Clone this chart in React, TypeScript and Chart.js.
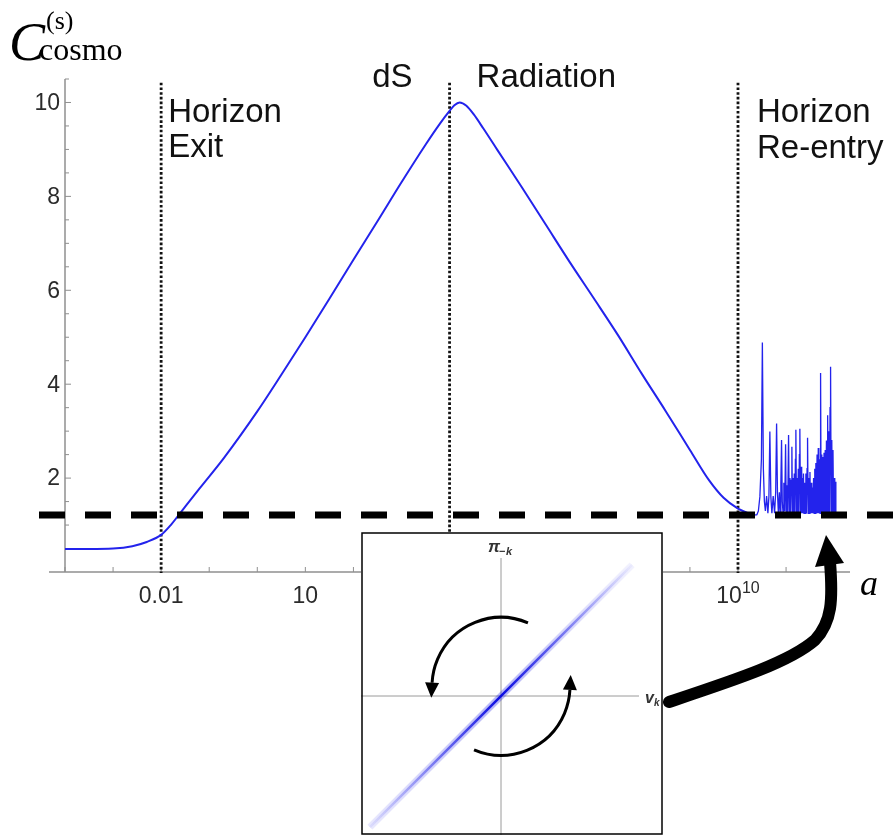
import React, { useEffect, useRef } from "react";
import { Chart, registerables } from "chart.js";
Chart.register(...registerables);

// ---------- data ----------
// smooth part of C_cosmo vs log10(a)
const curveLogA = [-4, -3.5, -3, -2.6, -2.3, -2.0, -1.8, -1.6, -1.2, -0.7, 0, 0.5, 1, 1.5, 2, 2.5, 3, 3.5, 3.8, 4.0, 4.1, 4.21, 4.35, 4.5, 4.7, 5.0, 5.5, 6, 6.5, 7, 7.5, 8, 8.5, 9, 9.4, 9.7, 10, 10.2, 10.362];
const curveC = [0.49, 0.49, 0.5, 0.55, 0.64, 0.79, 1.0, 1.26, 1.78, 2.42, 3.42, 4.2, 5.0, 5.82, 6.65, 7.47, 8.3, 9.1, 9.55, 9.82, 9.94, 10.0, 9.93, 9.75, 9.45, 8.98, 8.2, 7.4, 6.6, 5.83, 5.05, 4.22, 3.42, 2.6, 1.95, 1.58, 1.35, 1.26, 1.21];

// oscillating part after horizon re-entry
const oscLogA = [
  10.362, 10.393, 10.424, 10.455, 10.487, 10.507, 10.528, 10.549, 10.570, 10.595,
  10.622, 10.643, 10.663, 10.684, 10.705, 10.732, 10.761, 10.784, 10.803, 10.821,
  10.840, 10.861, 10.877, 10.892, 10.906, 10.921, 10.938, 10.954, 10.971, 10.990,
  11.004, 11.019, 11.033, 11.052, 11.067, 11.081, 11.096, 11.108, 11.121, 11.133,
  11.146, 11.158, 11.171, 11.183, 11.194, 11.204, 11.217, 11.229, 11.241, 11.254,
  11.266, 11.277, 11.287, 11.300, 11.312, 11.325, 11.337, 11.350, 11.362, 11.374,
  11.387, 11.399, 11.412, 11.424, 11.437, 11.447, 11.460, 11.472, 11.485, 11.497,
  11.510, 11.522, 11.535, 11.547, 11.560, 11.572, 11.585, 11.597, 11.610, 11.620,
  11.633, 11.645, 11.658, 11.670, 11.682, 11.695, 11.707, 11.718, 11.730, 11.743,
  11.755, 11.768, 11.780, 11.790, 11.803, 11.815, 11.828, 11.840, 11.853, 11.865,
  11.878, 11.890, 11.903, 11.915, 11.926, 11.938, 11.951, 11.963, 11.976, 11.988,
  12.001, 12.013, 12.026, 12.036,
];
const oscC = [
  1.21, 1.22, 1.3, 1.6, 2.4, 4.89, 2.2, 1.5, 1.3, 1.62,
  1.25, 1.6, 2.99, 1.6, 1.25, 1.62, 1.25, 1.7, 3.16, 1.7,
  1.25, 1.7, 1.25, 1.9, 2.81, 1.5, 1.25, 1.9, 1.3, 2.72,
  1.25, 1.85, 1.28, 2.92, 1.25, 2.0, 1.25, 1.95, 2.67, 1.25,
  2.0, 1.25, 2.1, 1.25, 2.4, 3.03, 1.25, 2.0, 1.25, 2.2,
  1.25, 2.5, 3.05, 1.25, 2.24, 1.25, 2.0, 1.25, 2.1, 1.25,
  1.9, 1.25, 2.1, 1.25, 2.2, 2.86, 1.25, 2.0, 1.25, 2.13,
  1.25, 1.9, 1.25, 1.8, 1.25, 2.0, 1.25, 2.2, 1.25, 2.32,
  1.25, 2.5, 1.25, 2.64, 1.25, 2.4, 1.25, 4.24, 1.25, 2.5,
  1.25, 2.45, 1.25, 2.54, 1.25, 2.6, 1.25, 2.8, 1.25, 3.34,
  1.25, 3.0, 1.25, 3.5, 4.37, 1.25, 2.81, 1.25, 2.6, 1.25,
  2.0, 1.25, 1.92, 1.25,
];

const xMinExp = -4;
const xMaxExp = 12.33;
const yMax = 10.5;
const yMinorStep = 0.5;
const yTickValues = [2, 4, 6, 8, 10];
const xTickValues = [0.01, 10, 1e4, 1e7, 1e10];
const xTickBase = ["0.01", "10", "10", "10", "10"];
const xTickExp = ["", "", "4", "7", "10"];
const eventLines = [0.01, 1e4, 1e10]; // horizon exit, dS->radiation, re-entry
const eventTop = 10.42;
const thresholdC = 1.215;

// inset phase-space squeezing line
const insetV = [-0.95, 0.95];
const insetPi = [-0.95, 0.95];

// ---------- styles ----------
const SANS = '"Liberation Sans", Arial, sans-serif';
const SERIF = '"Liberation Serif", "Times New Roman", serif';
const BLUE = "#2323ec";

function line(ctx: any, x1: number, y1: number, x2: number, y2: number) {
  ctx.beginPath();
  ctx.moveTo(x1, y1);
  ctx.lineTo(x2, y2);
  ctx.stroke();
}

const mainDecor = {
  id: "mainDecor",
  beforeDatasetsDraw(chart: any) {
    const { ctx, scales } = chart;
    const x = scales.x;
    const y = scales.y;
    const yb = y.getPixelForValue(0);
    const yt = y.getPixelForValue(yMax);
    ctx.save();
    ctx.strokeStyle = "#8f8f8f";
    ctx.lineWidth = 1.5;
    line(ctx, x.left, yt, x.left, yb);
    line(ctx, x.left - 16, yb, x.right, yb);
    // y ticks (inward)
    ctx.lineWidth = 1;
    for (let v = yMinorStep; v <= yMax + 1e-9; v += yMinorStep) {
      const py = y.getPixelForValue(v);
      const len = Math.abs(v % 2) < 1e-9 ? 6 : 4;
      line(ctx, x.left, py, x.left + len, py);
    }
    // x ticks every decade (inward)
    for (let e = xMinExp; e <= Math.floor(xMaxExp); e++) {
      const px = x.getPixelForValue(Math.pow(10, e));
      line(ctx, px, yb, px, yb - 5);
    }
    // dotted event lines
    ctx.strokeStyle = "#111";
    ctx.lineWidth = 2.8;
    ctx.setLineDash([2.6, 2.1]);
    for (const a of eventLines) {
      const px = x.getPixelForValue(a);
      line(ctx, px, y.getPixelForValue(eventTop), px, yb + 1);
    }
    ctx.restore();
  },
  afterDatasetsDraw(chart: any) {
    const { ctx, scales } = chart;
    const x = scales.x;
    const y = scales.y;
    const yb = y.getPixelForValue(0);
    ctx.save();
    // dashed threshold line
    ctx.strokeStyle = "#000";
    ctx.lineWidth = 7;
    ctx.setLineDash([26, 20]);
    const py = y.getPixelForValue(thresholdC);
    line(ctx, 39, py, chart.width, py);
    ctx.setLineDash([]);

    // y tick labels
    ctx.fillStyle = "#2b2b2b";
    ctx.font = `23px ${SANS}`;
    ctx.textAlign = "right";
    ctx.textBaseline = "middle";
    for (const v of yTickValues) {
      ctx.fillText(String(v), x.left - 5, y.getPixelForValue(v) + 1);
    }
    // x tick labels
    ctx.textBaseline = "alphabetic";
    ctx.textAlign = "left";
    xTickValues.forEach((v, i) => {
      const cx = x.getPixelForValue(v);
      const base = xTickBase[i];
      const ex = xTickExp[i];
      ctx.font = `23px ${SANS}`;
      const wb = ctx.measureText(base).width;
      ctx.font = `16px ${SANS}`;
      const we = ex ? ctx.measureText(ex).width : 0;
      const start = cx - (wb + we) / 2;
      ctx.font = `23px ${SANS}`;
      ctx.fillText(base, start, yb + 31);
      if (ex) {
        ctx.font = `16px ${SANS}`;
        ctx.fillText(ex, start + wb, yb + 21);
      }
    });

    // region annotations
    ctx.fillStyle = "#111";
    ctx.font = `33px ${SANS}`;
    const xExit = x.getPixelForValue(eventLines[0]);
    const xDs = x.getPixelForValue(eventLines[1]);
    const xRe = x.getPixelForValue(eventLines[2]);
    ctx.textAlign = "left";
    ctx.fillText("Horizon", xExit + 7, 122);
    ctx.fillText("Exit", xExit + 7, 157);
    ctx.textAlign = "right";
    ctx.fillText("dS", xDs - 37, 87);
    ctx.textAlign = "left";
    ctx.fillText("Radiation", xDs + 27, 87);
    ctx.fillText("Horizon", xRe + 19, 122);
    ctx.fillText("Re-entry", xRe + 19, 158);

    // axis titles
    ctx.fillStyle = "#000";
    ctx.font = `italic 54px ${SERIF}`;
    ctx.fillText("C", 9, 60);
    ctx.font = `26px ${SERIF}`;
    ctx.fillText("(s)", 46, 29);
    ctx.font = `32px ${SERIF}`;
    ctx.fillText("cosmo", 39, 60);
    ctx.font = `italic 36px ${SERIF}`;
    ctx.fillText("a", 860, 595);

    // big curved arrow from inset to oscillations
    ctx.strokeStyle = "#000";
    ctx.fillStyle = "#000";
    ctx.lineWidth = 12;
    ctx.lineCap = "round";
    ctx.beginPath();
    ctx.moveTo(669, 702);
    ctx.bezierCurveTo(735, 680, 790, 662, 815, 640);
    ctx.bezierCurveTo(832, 622, 833, 600, 830, 562);
    ctx.stroke();
    ctx.beginPath();
    ctx.moveTo(826, 535);
    ctx.lineTo(844, 563);
    ctx.lineTo(815, 567);
    ctx.closePath();
    ctx.fill();
    ctx.restore();
  },
};

function arrowArc(ctx: any, cx: number, cy: number, r: number, a0: number, a1: number) {
  const d0 = (a0 * Math.PI) / 180;
  const d1 = (a1 * Math.PI) / 180;
  ctx.beginPath();
  ctx.arc(cx, cy, r, d0, d1, true);
  ctx.stroke();
  const bx = cx + r * Math.cos(d1);
  const by = cy + r * Math.sin(d1);
  const dx = Math.sin(d1);
  const dy = -Math.cos(d1);
  const len = 15;
  const hw = 7;
  ctx.beginPath();
  ctx.moveTo(bx + dx * len, by + dy * len);
  ctx.lineTo(bx - dy * hw, by + dx * hw);
  ctx.lineTo(bx + dy * hw, by - dx * hw);
  ctx.closePath();
  ctx.fill();
}

const insetDecor = {
  id: "insetDecor",
  beforeDraw(chart: any) {
    const { ctx } = chart;
    ctx.save();
    ctx.fillStyle = "#fff";
    ctx.fillRect(0, 0, chart.width, chart.height);
    ctx.restore();
  },
  beforeDatasetsDraw(chart: any) {
    const { ctx, scales, chartArea } = chart;
    const x0 = scales.x.getPixelForValue(0);
    const y0 = scales.y.getPixelForValue(0);
    ctx.save();
    ctx.strokeStyle = "#9a9a9a";
    ctx.lineWidth = 1;
    line(ctx, x0, chartArea.top, x0, chart.height);
    line(ctx, 0, y0, chartArea.right, y0);
    ctx.restore();
  },
  afterDatasetsDraw(chart: any) {
    const { ctx, scales } = chart;
    const cx = scales.x.getPixelForValue(0);
    const cy = scales.y.getPixelForValue(0.07);
    const r = scales.x.getPixelForValue(0.5) - cx;
    ctx.save();
    ctx.strokeStyle = "#000";
    ctx.fillStyle = "#000";
    ctx.lineWidth = 3;
    arrowArc(ctx, cx, cy, r, -67, -177);
    arrowArc(ctx, cx, cy, r, 113, 3);
    // labels
    ctx.fillStyle = "#333";
    ctx.textAlign = "left";
    ctx.textBaseline = "alphabetic";
    ctx.font = `italic bold 17px ${SANS}`;
    ctx.fillText("π", 127, 20);
    ctx.font = `bold 11px ${SANS}`;
    ctx.fillText("−", 138, 23);
    ctx.font = `italic bold 11px ${SANS}`;
    ctx.fillText("k", 145, 23);
    ctx.font = `italic bold 16px ${SANS}`;
    ctx.fillText("v", 284, 171);
    ctx.font = `italic bold 10px ${SANS}`;
    ctx.fillText("k", 293, 174);
    // border
    ctx.strokeStyle = "#000";
    ctx.lineWidth = 1.5;
    ctx.strokeRect(1, 1, 300, 301);
    ctx.restore();
  },
};

function diagGradient(alphaCenter: number, alphaEnds: number) {
  return (c: any) => {
    const chart = c.chart;
    if (!chart.chartArea) return `rgba(30,30,230,${alphaCenter})`;
    const xs = chart.scales.x;
    const ys = chart.scales.y;
    const g = chart.ctx.createLinearGradient(
      xs.getPixelForValue(insetV[0]), ys.getPixelForValue(insetPi[0]),
      xs.getPixelForValue(insetV[1]), ys.getPixelForValue(insetPi[1])
    );
    g.addColorStop(0, `rgba(70,70,240,${alphaEnds})`);
    g.addColorStop(0.5, `rgba(10,10,225,${alphaCenter})`);
    g.addColorStop(1, `rgba(70,70,240,${alphaEnds * 0.6})`);
    return g;
  };
}

export default function App() {
  const mainRef = useRef<HTMLCanvasElement>(null);
  const insetRef = useRef<HTMLCanvasElement>(null);

  useEffect(() => {
    const curve = curveLogA.map((L, i) => ({ x: Math.pow(10, L), y: curveC[i] }));
    const osc = oscLogA.map((L, i) => ({ x: Math.pow(10, L), y: oscC[i] }));
    const main = new Chart(mainRef.current as HTMLCanvasElement, {
      type: "line",
      data: {
        datasets: [
          {
            data: curve,
            borderColor: BLUE,
            borderWidth: 2,
            pointRadius: 0,
            cubicInterpolationMode: "monotone",
            fill: false,
          },
          {
            data: osc,
            borderColor: BLUE,
            borderWidth: 1.3,
            pointRadius: 0,
            tension: 0,
            fill: false,
          },
        ],
      },
      options: {
        responsive: false,
        animation: false,
        devicePixelRatio: 1,
        layout: { padding: { left: 65, right: 44, top: 79, bottom: 263 } },
        plugins: { legend: { display: false }, tooltip: { enabled: false } },
        scales: {
          x: { type: "logarithmic", min: Math.pow(10, xMinExp), max: Math.pow(10, xMaxExp), display: false },
          y: { type: "linear", min: 0, max: yMax, display: false },
        },
      },
      plugins: [mainDecor],
    } as any);

    const inset = new Chart(insetRef.current as HTMLCanvasElement, {
      type: "scatter",
      data: {
        datasets: [
          {
            data: insetV.map((v, i) => ({ x: v, y: insetPi[i] })),
            showLine: true,
            borderColor: diagGradient(0.3, 0.12),
            borderWidth: 7,
            pointRadius: 0,
          },
          {
            data: insetV.map((v, i) => ({ x: v, y: insetPi[i] })),
            showLine: true,
            borderColor: diagGradient(1, 0.08),
            borderWidth: 2.5,
            pointRadius: 0,
          },
        ],
      },
      options: {
        responsive: false,
        animation: false,
        devicePixelRatio: 1,
        layout: { padding: { left: 2, right: 24, top: 26, bottom: 1 } },
        plugins: { legend: { display: false }, tooltip: { enabled: false } },
        scales: {
          x: { type: "linear", min: -1, max: 1, display: false },
          y: { type: "linear", min: -1, max: 1, display: false },
        },
      },
      plugins: [insetDecor],
    } as any);

    return () => {
      main.destroy();
      inset.destroy();
    };
  }, []);

  return (
    <div style={{ position: "absolute", left: 0, top: 0, width: 894, height: 835, background: "#fff", overflow: "hidden" }}>
      <canvas ref={mainRef} width={894} height={835} style={{ position: "absolute", left: 0, top: 0 }} />
      <canvas ref={insetRef} width={302} height={303} style={{ position: "absolute", left: 361, top: 532 }} />
    </div>
  );
}
